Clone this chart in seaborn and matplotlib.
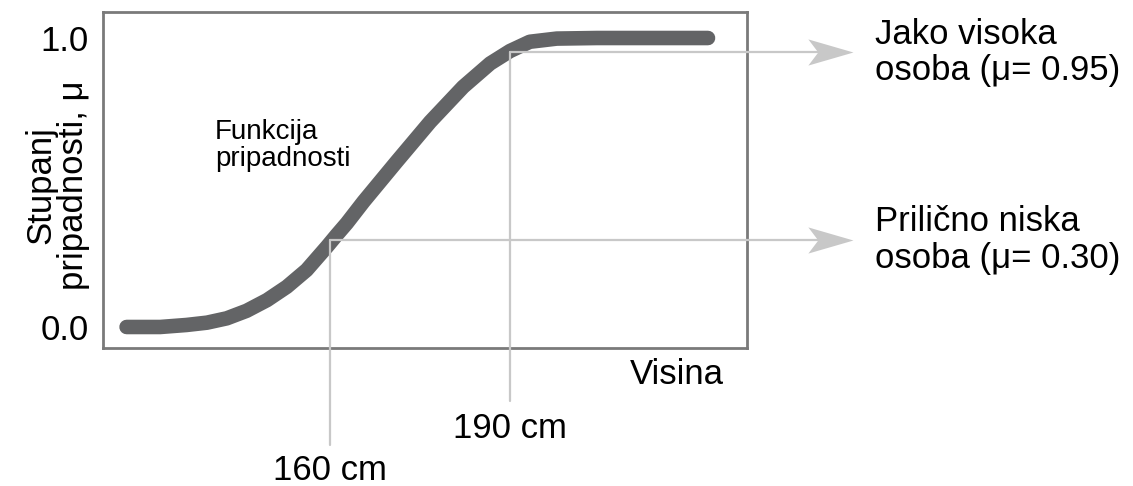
import numpy as np
import pandas as pd
import matplotlib.pyplot as plt
import seaborn as sns
from matplotlib.path import Path

# membership curve (height in cm, membership mu)
visina = [126.1, 131.7, 136.1, 139.5, 142.8, 146.1, 149.5, 152.8, 156.1,
          159.5, 161.1, 162.8, 165.6, 171.1, 176.7, 182.2, 186.7, 190.0,
          193.3, 197.8, 204.5, 223.0]
mu = [0.0, 0.0, 0.007, 0.015, 0.030, 0.056, 0.093, 0.139, 0.197,
      0.278, 0.318, 0.359, 0.434, 0.572, 0.710, 0.831, 0.912, 0.955,
      0.987, 0.998, 1.0, 1.0]

# marked points
oznake_cm = [160, 190]
oznake_mu = [0.30, 0.95]
oznake_tekst = ['160 cm', '190 cm']
opisi = ['Prilično niska\nosoba (μ= 0.30)', 'Jako visoka\nosoba (μ= 0.95)']
ytick_vals = [0.0, 1.0]
ytick_labels = ['0.0', '1.0']

df = pd.DataFrame({'visina': visina, 'mu': mu})

sns.set_style('white')
plt.rcParams['font.family'] = ['Liberation Sans', 'DejaVu Sans']
plt.rcParams['text.color'] = 'black'
plt.rcParams['ytick.color'] = 'black'

W, H = 1133, 486
fig = plt.figure(figsize=(W / 100, H / 100), dpi=100)
ax = fig.add_axes([103 / W, 1 - 348 / H, 644 / W, 336 / H])

sns.lineplot(data=df, x='visina', y='mu', ax=ax, color='#636466',
             linewidth=10.5, solid_capstyle='round', solid_joinstyle='round',
             zorder=2)

ax.set_xlim(122.17, 229.5)
ax.set_ylim(-0.0727, 1.09)

for s in ax.spines.values():
    s.set_color('#7a7a7a')
    s.set_linewidth(2)
    s.set_visible(True)

ax.set_xticks([])
ax.set_yticks(ytick_vals)
ax.set_yticklabels(ytick_labels, fontsize=25, color='black')
ax.tick_params(axis='y', length=0, pad=10)
ax.set_xlabel('')
ax.set_ylabel('')

# arrowhead with a notched back, tip at the marker position
glava = Path([(0, 0), (-1, 0.29), (-0.78, 0), (-1, -0.29), (0, 0)],
             [Path.MOVETO, Path.LINETO, Path.LINETO, Path.LINETO, Path.CLOSEPOLY])

siva = '#c8c8c8'
tip_x = 247.2
dno = {160: -0.41, 190: -0.255}
tekst_y = {160: -0.495, 190: -0.35}
for cm, m, lab, opis in zip(oznake_cm, oznake_mu, oznake_tekst, opisi):
    # vertical drop line to the label below the box
    ax.plot([cm, cm], [m, dno[cm]], color=siva, lw=1.6, clip_on=False, zorder=3)
    # horizontal line with arrow to the description
    ax.plot([cm, tip_x - 5], [m, m], color=siva, lw=1.6, clip_on=False, zorder=3)
    ax.plot([tip_x], [m], marker=glava, markersize=65, color=siva,
            markeredgewidth=0, linestyle='none', clip_on=False, zorder=3)
    ax.text(cm, tekst_y[cm], lab, ha='center', va='center', fontsize=25,
            clip_on=False)
    ax.text(250.8, m, opis, ha='left', va='center', fontsize=25,
            linespacing=1.15, clip_on=False)

ax.text(140.8, 0.72, 'Funkcija\npripadnosti', ha='left', va='top',
        fontsize=20, linespacing=1.05)
ax.text(0.891, -0.08, 'Visina', transform=ax.transAxes, ha='center',
        va='center', fontsize=25)

fig.text(57 / W, 1 - 185 / H, 'Stupanj\npripadnosti, μ', rotation=90,
         ha='center', va='center', fontsize=25, linespacing=1.0,
         multialignment='center')

fig.savefig('out.png', dpi=100)
